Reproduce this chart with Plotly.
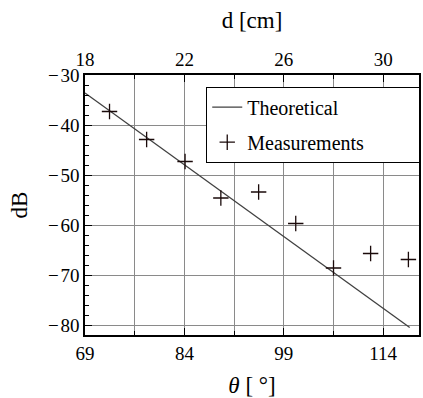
import plotly.graph_objects as go

# theoretical curve (end points of the straight line)
theta_theory = [69, 118]
db_theory = [-33.6, -80.5]

# measured points
theta_meas = [72.7, 78.3, 84.1, 89.5, 95.2, 100.8, 106.5, 112.1, 117.8]
db_meas = [-37.3, -42.9, -47.3, -54.6, -53.4, -59.7, -68.6, -65.7, -66.9]

theta_ticks = [69, 84, 99, 114]
d_ticks = [18, 22, 26, 30]
db_ticks = [-30, -40, -50, -60, -70, -80]
db_labels = ["\u2212\u200a30", "\u2212\u200a40", "\u2212\u200a50", "\u2212\u200a60", "\u2212\u200a70", "\u2212\u200a80"]

serif = "Liberation Serif, Times New Roman, DejaVu Serif, serif"
font = dict(family=serif, size=19, color="black")

fig = go.Figure()
fig.add_trace(go.Scatter(x=theta_theory, y=db_theory, mode="lines", name="Theoretical",
                         legendgroup="a",
                         line=dict(color="#404040", width=1.3)))
fig.add_trace(go.Scatter(x=theta_meas, y=db_meas, mode="markers",
                         name="Measurements\u00a0\u00a0\u00a0\u00a0\u00a0\u00a0\u00a0\u00a0\u00a0\u00a0",
                         legendgroup="b",
                         marker=dict(symbol="cross-thin", size=11, color="#1a0a0a",
                                     line=dict(color="#1a0a0a", width=1.3))))
# dummy trace so the top axis gets drawn
fig.add_trace(go.Scatter(x=[], y=[], xaxis="x2", showlegend=False))

fig.update_layout(
    width=423, height=398,
    margin=dict(l=85, r=2, t=75, b=62),
    plot_bgcolor="white", paper_bgcolor="white",
    font=font,
    showlegend=True,
    legend=dict(x=0.363, y=0.955, xanchor="left", yanchor="top",
                bordercolor="black", borderwidth=1, bgcolor="white",
                font=dict(family=serif, size=20), itemwidth=30,
                tracegroupgap=6),
    xaxis=dict(range=[69, 119.4], tickvals=theta_ticks, showgrid=True,
               gridcolor="#8a8a8a", gridwidth=1,
               minor=dict(dtick=7.5, tick0=69, showgrid=True, gridcolor="#8a8a8a",
                          ticks="inside", ticklen=4),
               ticks="inside", ticklen=7, tickwidth=1.2, tickcolor="black",
               showline=True, linecolor="black", linewidth=1.6, zeroline=False,
               title=dict(text="<i>θ</i> [ °]", standoff=16)),
    xaxis2=dict(range=[18, 31.44], tickvals=d_ticks, overlaying="x", side="top",
                showgrid=False, ticks="inside", ticklen=7, tickwidth=1.2, tickcolor="black",
                minor=dict(dtick=2, tick0=18, ticks="inside", ticklen=4),
                showline=True, linecolor="black", linewidth=1.6, zeroline=False,
                title=dict(text="d [cm]", standoff=14)),
    yaxis=dict(range=[-82, -30], tickvals=db_ticks, ticktext=db_labels, showgrid=True,
               gridcolor="#8a8a8a", gridwidth=1,
               minor=dict(dtick=2, ticks="inside", ticklen=4, showgrid=False),
               ticks="inside", ticklen=7, tickwidth=1.2, tickcolor="black",
               showline=True, linecolor="black", linewidth=1.6, mirror=True, zeroline=False,
               title=dict(text="dB", standoff=14)),
)

fig.write_html("out.html", config={"displayModeBar": False},
               post_script="document.body.style.margin='0';document.body.style.overflow='hidden';")
